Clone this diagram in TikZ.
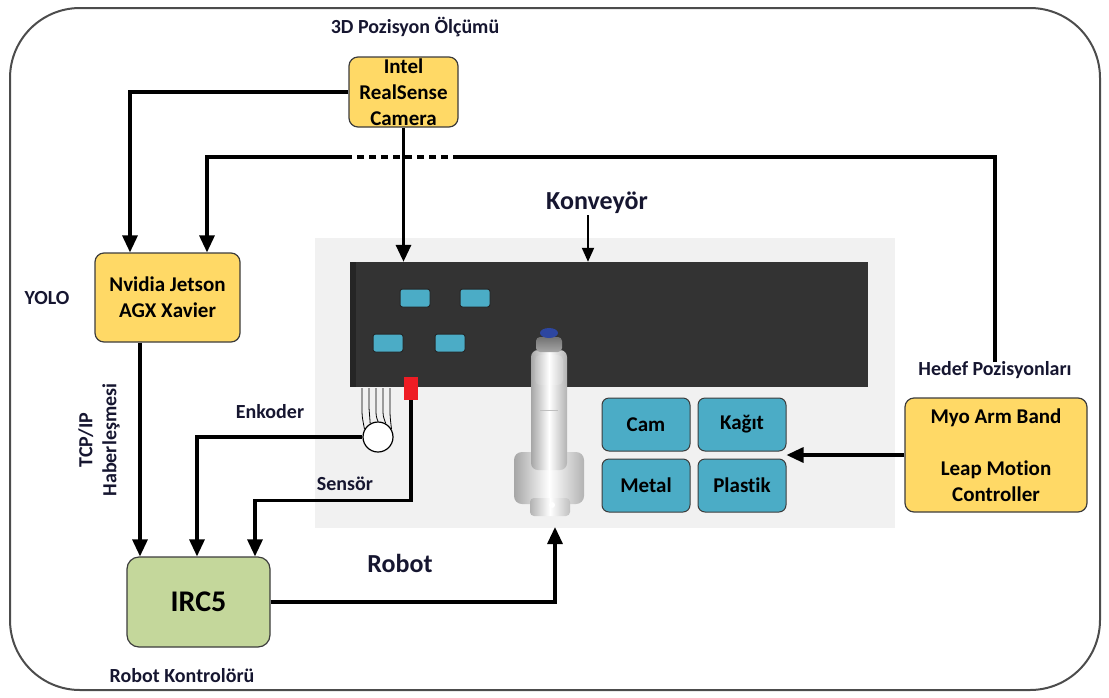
\documentclass[tikz,border=0pt]{standalone}
\usepackage{fontspec}
\setmainfont[Ligatures=NoCommon]{Carlito}
\usetikzlibrary{arrows.meta}

\definecolor{boxyellow}{RGB}{255,217,102}
\definecolor{boxgreen}{RGB}{196,215,155}
\definecolor{boxteal}{RGB}{75,172,198}
\definecolor{boxline}{RGB}{60,60,60}
\definecolor{belt}{RGB}{51,51,51}
\definecolor{floorgray}{RGB}{241,241,241}
\definecolor{lbltext}{RGB}{22,22,48}
\definecolor{sensred}{RGB}{238,28,36}
\definecolor{capblue}{RGB}{45,70,160}

\begin{document}
\begin{tikzpicture}[x=1pt, y=-1pt,
    hw/.style={rectangle, rounded corners=9pt, draw=boxline, line width=1.2pt, fill=boxyellow, align=center, font=\fontsize{21}{26}\selectfont\bfseries, inner sep=0pt},
    ctrl/.style={rectangle, rounded corners=12pt, draw=boxline, line width=1.2pt, fill=boxgreen, font=\fontsize{30}{34}\selectfont\bfseries, inner sep=0pt, minimum width=143pt, minimum height=90pt},
    bin/.style={rectangle, rounded corners=7pt, draw=boxline, line width=1pt, fill=boxteal, font=\fontsize{21}{24}\selectfont\bfseries, inner sep=0pt, minimum width=88pt, minimum height=53pt},
    part/.style={rectangle, rounded corners=2.5pt, draw=black!85, line width=1pt, fill=boxteal, minimum width=30pt, minimum height=18pt, inner sep=0pt},
    lbl/.style={text=lbltext, font=\fontsize{20}{24}\selectfont\bfseries, inner sep=1pt},
    biglbl/.style={text=lbltext, font=\fontsize{26}{30}\selectfont\bfseries, inner sep=1pt},
    wire/.style={line width=3.2pt},
    arr/.style={line width=3.2pt, -{Triangle[width=15pt,length=17pt]}},
    arrthin/.style={line width=2pt, -{Triangle[width=12pt,length=14pt]}}
]
    \useasboundingbox (0,0) rectangle (1109,697);

    % Cerceve
    \draw[black!70, line width=2pt, rounded corners=70pt] (10,8) rectangle (1100,690);

    % Konveyor alani
    \fill[floorgray] (315,238) rectangle (895,528);
    \node[rectangle, fill=belt, minimum width=518pt, minimum height=125pt, inner sep=0pt] (belt) at (609,324.5) {};
    \fill[black!95, opacity=0.35] (350,262) rectangle (356,387);

    % Bant uzerindeki parcalar
    \node[part] (p1) at (415,298) {};
    \node[part] (p2) at (475,298) {};
    \node[part] (p3) at (388,343) {};
    \node[part] (p4) at (450,343) {};

    % Sensor ve enkoder
    \node[rectangle, fill=sensred, minimum width=14pt, minimum height=23pt, inner sep=0pt] (sensor) at (411,388.5) {};
    \node[circle, draw=black, line width=1.2pt, fill=white, minimum size=30pt, inner sep=0pt] (enc) at (378,437) {};
    \foreach \x/\a in {362/150,369/120,376/90,383/60,390/30}
        \draw[line width=0.8pt] (\x,388) -- (\x,408) .. controls (\x,416) .. (enc.\a);

    % Robot kolu
    \shade[left color=black!35, right color=black!30, middle color=white, rounded corners=8pt] (514,452) rectangle (584,504);
    \shade[left color=black!30, right color=black!25, middle color=white, rounded corners=4pt] (530,498) rectangle (570,516);
    \shade[left color=black!35, right color=black!30, middle color=white, rounded corners=7pt] (531,350) rectangle (567,470);
    \shade[left color=black!25, right color=black!20, middle color=white, rounded corners=5pt] (535,355) rectangle (563,385);
    \draw[black!25] (540,410) -- (558,410);
    \fill[white] (552,505) circle (3pt);
    \shade[top color=black!55, bottom color=black!35, rounded corners=4pt] (536,337) rectangle (562,352);
    \fill[capblue] (549,333) ellipse (9pt and 5pt);
    \coordinate (robotbase) at (555,527);

    % Siniflandirma kutulari
    \node[bin] (cam) at (646,424.5) {Cam};
    \node[bin] (kagit) at (742,424.5) {Kağıt};
    \node[bin] (metal) at (646,485.5) {Metal};
    \node[bin] (plastik) at (742,485.5) {Plastik};

    % Donanim
    \node[hw, minimum width=109pt, minimum height=70pt] (camera) at (403.5,92) {Intel\\RealSense\\Camera};
    \node[hw, minimum width=145pt, minimum height=89pt] (jetson) at (167.5,297.5) {Nvidia Jetson\\AGX Xavier};
    \node[hw, minimum width=182pt, minimum height=114pt] (myo) at (996,455) {Myo Arm Band\\[26pt]Leap Motion\\Controller};
    \node[ctrl] (irc) at (198.5,602) {IRC5};

    % Etiketler
    \node[lbl] (olcum) at (415,27) {3D Pozisyon Ölçümü};
    \node[lbl] (yolo) at (47,298) {YOLO};
    \node[lbl, rotate=90, align=center] (tcp) at (99,440) {TCP/IP\\Haberleşmesi};
    \node[lbl] (enklbl) at (270,412) {Enkoder};
    \node[lbl] (senslbl) at (345,484) {Sensör};
    \node[lbl] (kontlbl) at (182,676) {Robot Kontrolörü};
    \node[lbl] (hedef) at (995,370) {Hedef Pozisyonları};
    \node[biglbl] (konv) at (597,203) {Konveyör};
    \node[biglbl] (robotlbl) at (400,563) {Robot};

    % Baglantilar
    \coordinate (dashR) at (460,157);
    \coordinate (dashL) at (350,157);
    \draw[arr] (camera.west) -| ([xshift=-37.5pt]jetson.north);
    \draw[wire] ([yshift=-2pt]hedef.north) |- (dashR);
    \draw[line width=3.2pt, dash pattern=on 7pt off 5pt] (dashR) -- (dashL);
    \draw[arr] (dashL) -| ([xshift=39.5pt]jetson.north);
    \draw[arr] (camera.south) -- (camera.south |- belt.north);
    \draw[arrthin] ([xshift=-9pt]konv.south) -- ([xshift=-21pt]belt.north);
    \draw[arr] ([xshift=-27.5pt]jetson.south) -- ([xshift=-58.5pt]irc.north);
    \draw[arr] (enc.west) -| ([xshift=-1.5pt]irc.north);
    \draw[arr] (sensor.south) -- ++(0,100) -| ([xshift=56.5pt]irc.north);
    \draw[arr] (irc.east) -| (robotbase);
    \draw[arr] (myo.west) -- (myo.west -| kagit.east);
\end{tikzpicture}
\end{document}
